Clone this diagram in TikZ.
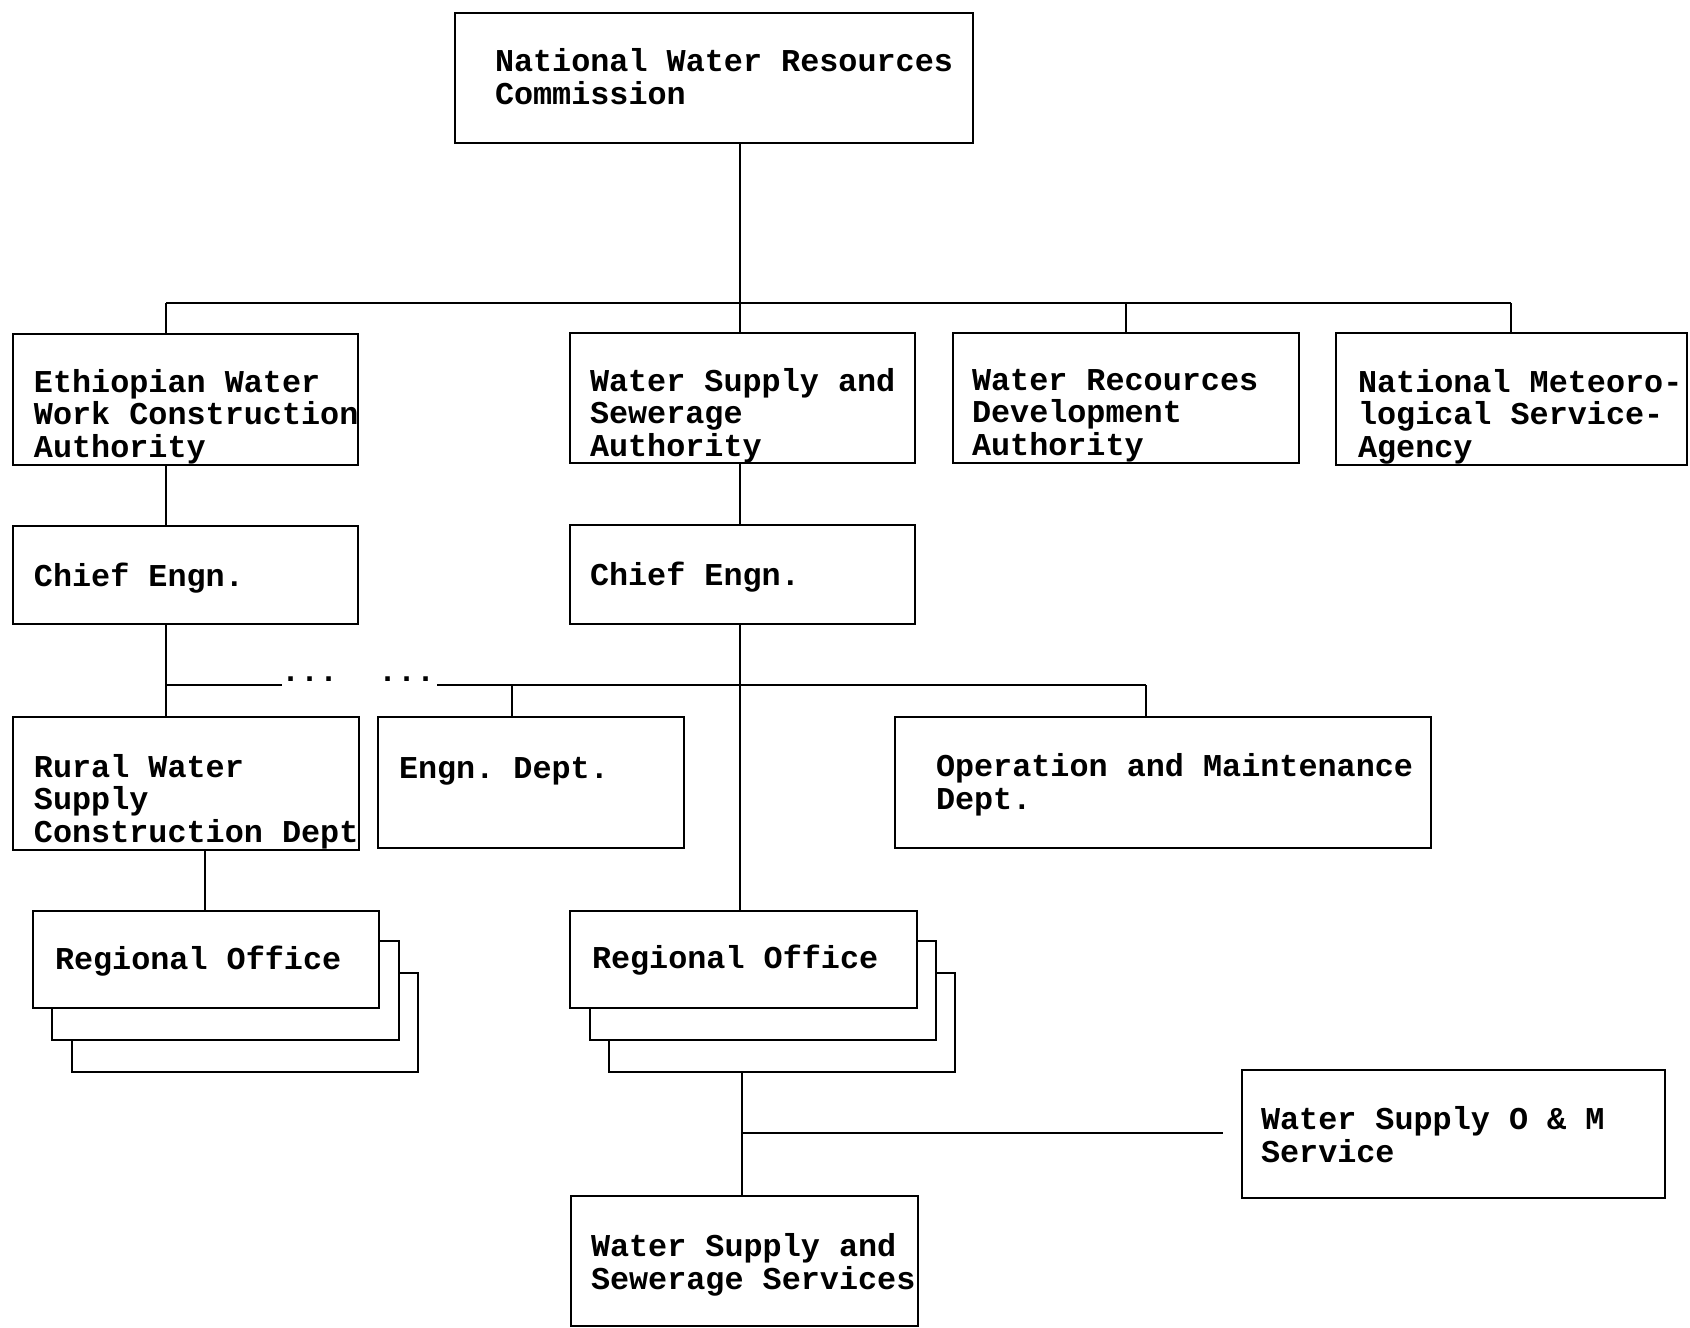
\documentclass[tikz,border=0pt]{standalone}
\usepackage{fontspec}
\setmonofont{Liberation Mono}
\begin{document}
\begin{tikzpicture}[x=1pt,y=-1pt,
  box/.style={draw, line width=2.8pt, fill=white, rectangle, inner sep=0pt, outer sep=0pt},
  lbl/.style={anchor=base west, inner sep=0pt, outer sep=0pt, align=left,
    font=\fontsize{31.8}{32.3}\selectfont\ttfamily\bfseries},
  conn/.style={line width=2.8pt}]
\newcommand\orgbox[5]{\node[box, minimum width={(#4-#2)*1pt}, minimum height={(#5-#3)*1pt}] (#1) at ({(#2+#4)/2},{(#3+#5)/2}) {};}
\useasboundingbox[fill=white] (0,0) rectangle (1690,1328);

% boxes
\orgbox{nwrc}{455}{13}{973}{143}
\orgbox{ewwca}{13}{334}{358}{465}
\orgbox{wssa}{570}{333}{915}{463}
\orgbox{wrda}{953}{333}{1299}{463}
\orgbox{nmsa}{1336}{333}{1687}{465}
\orgbox{ce1}{13}{526}{358}{624}
\orgbox{ce2}{570}{525}{915}{624}
\orgbox{rural}{13}{717}{359}{850}
\orgbox{engd}{378}{717}{684}{848}
\orgbox{om}{895}{717}{1431}{848}
\orgbox{roLc}{72}{973}{418}{1072}
\orgbox{roLb}{52}{941}{399}{1040}
\orgbox{roL}{33}{911}{379}{1008}
\orgbox{roRc}{609}{973}{955}{1072}
\orgbox{roRb}{590}{941}{936}{1040}
\orgbox{roR}{570}{911}{917}{1008}
\orgbox{omsv}{1242}{1070}{1665}{1198}
\orgbox{wsss}{571}{1196}{918}{1326}

% texts (anchor = baseline of the last line)
\node[lbl] (t-nwrc) at (495,104) {National Water Resources\\Commission};
\node[lbl] (t-ewwca) at (34,457) {Ethiopian Water\\Work Construction\\Authority};
\node[lbl] (t-wssa) at (590,456) {Water Supply and\\Sewerage\\Authority};
\node[lbl] (t-wrda) at (972,455) {Water Recources\\Development\\Authority};
\node[lbl] (t-nmsa) at (1358,457) {National Meteoro-\\logical Service-\\Agency};
\node[lbl] (t-ce1) at (34,586) {Chief Engn.};
\node[lbl] (t-ce2) at (590,585) {Chief Engn.};
\node[lbl] (t-rural) at (34,842) {Rural Water\\Supply\\Construction Dept};
\node[lbl] (t-engd) at (399,778) {Engn. Dept.};
\node[lbl] (t-om) at (936,809) {Operation and Maintenance\\Dept.};
\node[lbl] (t-roL) at (55,969) {Regional Office};
\node[lbl] (t-roR) at (592,968) {Regional Office};
\node[lbl] (t-omsv) at (1261,1162) {Water Supply O \& M\\Service};
\node[lbl] (t-wsss) at (591,1289) {Water Supply and\\Sewerage Services};

% first level bus
\coordinate (b1) at (166,303);
\coordinate (b2) at (740,303);
\coordinate (b3) at (1126,303);
\coordinate (b4) at (1511,303);
\draw[conn] (nwrc.south -| b2) -- (b2 |- wssa.north);
\draw[conn] (b1) -- (b4);
\draw[conn] (b1) -- (b1 |- ewwca.north);
\draw[conn] (b3) -- (b3 |- wrda.north);
\draw[conn] (b4) -- (b4 |- nmsa.north);

% ewwca -> chief engn
\draw[conn] (ewwca.south -| b1) -- (b1 |- ce1.north);
% wssa -> chief engn
\draw[conn] (wssa.south -| b2) -- (b2 |- ce2.north);

% second level bus
\coordinate (c1) at (166,685);
\coordinate (c2) at (282,685);
\coordinate (c3) at (437,685);
\coordinate (c4) at (512,685);
\coordinate (c5) at (1146,685);
\node[lbl] (dots1) at (281,681) {...};
\node[lbl] (dots2) at (378,681) {...};
\draw[conn] (ce1.south -| c1) -- (c1 |- rural.north);
\draw[conn] (c1) -- (c2);
\draw[conn] (c3) -- (c5);
\draw[conn] (c4) -- (c4 |- engd.north);
\draw[conn] (c5) -- (c5 |- om.north);
\draw[conn] (ce2.south -| b2) -- (b2 |- roR.north);

% rural -> regional office
\coordinate (r1) at (205,850);
\draw[conn] (r1) -- (r1 |- roL.north);

% regional office -> services
\coordinate (s1) at (742,1072);
\coordinate (s2) at (742,1133);
\coordinate (s3) at (1223,1133);
\draw[conn] (roRc.south -| s1) -- (s1 |- wsss.north);
\draw[conn] (s2) -- (s3);
\end{tikzpicture}
\end{document}
